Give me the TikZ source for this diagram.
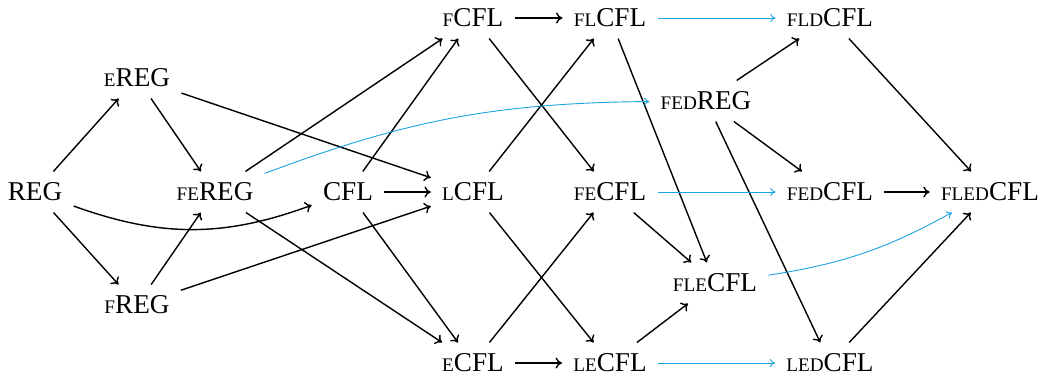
\documentclass[tikz,border=0pt]{standalone}
\usepackage{fontspec}
\setmainfont{Liberation Serif}
\usetikzlibrary{arrows.meta}
\definecolor{linkblue}{RGB}{27,163,226}
% prefix letters set as small capitals (scaled capitals)
\newcommand{\pre}[1]{{\fontsize{9.6}{9.6}\selectfont #1}}
\begin{document}
\begin{tikzpicture}[x=0.5pt,y=-0.5pt,
  cls/.style={inner sep=5.5pt,font=\fontsize{13.6}{14}\selectfont},
  arr/.style={line width=0.7pt,-{To[length=3.2pt,width=5.5pt]}},
  barr/.style={draw=linkblue,line width=0.45pt,-{To[length=2.6pt,width=4pt]}}]
\useasboundingbox (0,0) rectangle (1040,382);
% nodes
\node[cls] (reg)    at (35,192)  {REG};
\node[cls] (ereg)   at (137,78)  {\pre{E}REG};
\node[cls] (fereg)  at (215,192) {\pre{FE}REG};
\node[cls] (freg)   at (137,305) {\pre{F}REG};
\node[cls] (cfl)    at (348,192) {CFL};
\node[cls] (fcfl)   at (473,18)  {\pre{F}CFL};
\node[cls] (lcfl)   at (473,192) {\pre{L}CFL};
\node[cls] (ecfl)   at (473,363) {\pre{E}CFL};
\node[cls] (flcfl)  at (610,18)  {\pre{FL}CFL};
\node[cls] (fecfl)  at (610,192) {\pre{FE}CFL};
\node[cls] (lecfl)  at (610,363) {\pre{LE}CFL};
\node[cls] (fedreg) at (706,101) {\pre{FED}REG};
\node[cls] (flecfl) at (715,283) {\pre{FLE}CFL};
\node[cls] (fldcfl) at (830,18)  {\pre{FLD}CFL};
\node[cls] (fedcfl) at (830,192) {\pre{FED}CFL};
\node[cls] (ledcfl) at (830,363) {\pre{LED}CFL};
\node[cls] (fledcfl) at (990,192) {\pre{FLED}CFL};
% black inclusions
\draw[arr] (reg) -- (ereg);
\draw[arr] (reg) -- (freg);
\draw[arr] (reg) to[bend right=20] (cfl);
\draw[arr] (ereg) -- (fereg);
\draw[arr] (freg) -- (fereg);
\draw[arr] (ereg) -- (lcfl);
\draw[arr] (freg) -- (lcfl);
\draw[arr] (fereg) -- (fcfl);
\draw[arr] (fereg) -- (ecfl);
\draw[arr] (cfl) -- (fcfl);
\draw[arr] (cfl) -- (lcfl);
\draw[arr] (cfl) -- (ecfl);
\draw[arr] (fcfl) -- (flcfl);
\draw[arr] (fcfl) -- (fecfl);
\draw[arr] (lcfl) -- (flcfl);
\draw[arr] (lcfl) -- (lecfl);
\draw[arr] (ecfl) -- (fecfl);
\draw[arr] (ecfl) -- (lecfl);
\draw[arr] (flcfl) -- (flecfl);
\draw[arr] (fecfl) -- (flecfl);
\draw[arr] (lecfl) -- (flecfl);
\draw[arr] (fedreg) -- (fldcfl);
\draw[arr] (fedreg) -- (fedcfl);
\draw[arr] (fedreg) -- (ledcfl);
\draw[arr] (fldcfl) -- (fledcfl);
\draw[arr] (fedcfl) -- (fledcfl);
\draw[arr] (ledcfl) -- (fledcfl);
% blue inclusions
\draw[barr] (fereg) to[bend left=10] (fedreg);
\draw[barr] (flcfl) -- (fldcfl);
\draw[barr] (fecfl) -- (fedcfl);
\draw[barr] (lecfl) -- (ledcfl);
\draw[barr] (flecfl) to[bend right=10] (fledcfl);
\end{tikzpicture}
\end{document}
